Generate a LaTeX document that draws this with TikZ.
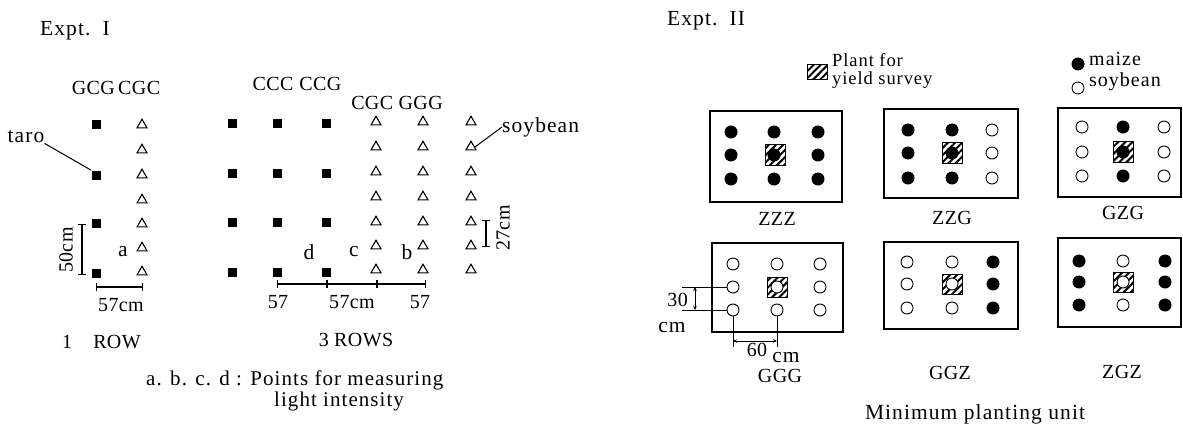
\documentclass[tikz,border=0pt]{standalone}
\usepackage{fontspec}
\setmainfont{Liberation Serif}[LetterSpace=5]
\newfontfamily\tightfont{Liberation Serif}[LetterSpace=2]
\usetikzlibrary{shapes.geometric,patterns.meta,arrows.meta}
\begin{document}
\begin{tikzpicture}[x=1pt,y=-1pt,
  every node/.style={inner sep=0pt, font=\fontsize{21.5}{23}\selectfont},
  lab/.style={font=\tightfont\fontsize{20}{22}\selectfont},
  sqr/.style={rectangle, fill=black, minimum size=9pt},
  tri/.style={regular polygon, regular polygon sides=3, draw, line width=1.1pt, minimum size=11.5pt},
  mz/.style={circle, fill=black, minimum size=13pt},
  sb/.style={circle, draw, fill=white, line width=0.9pt, minimum size=12pt},
  hatch/.style={rectangle, draw, line width=1pt, minimum size=20pt, pattern={Lines[angle=45,distance=5pt,line width=2pt]}},
  plotbox/.style={rectangle, draw, line width=1.4pt},
  dimline/.style={line width=1.2pt},
  barred/.style={dimline, {Bar[width=8pt]}-{Bar[width=8pt]}},
  dimarrow/.style={line width=0.9pt, {Stealth[length=4pt,width=3.5pt]}-{Stealth[length=4pt,width=3.5pt]}},
  lead/.style={line width=1pt},
]
\useasboundingbox (0,0) rectangle (1183,433);

% ---------------- Expt. I ----------------
\node[anchor=west] (t1) at (40,31) {Expt.\, I};
\node[lab] (g1) at (116,88) {GCG\,CGC};
\foreach \i/\y in {1/125,2/175,3/223,4/273} \node[sqr] (rs\i) at (96,\y) {};
\foreach \i/\y in {1/125,2/150,3/175,4/200,5/224,6/248,7/272} \node[tri] (rt\i) at (142,\y) {};
\node (taro) at (26,137) {taro};
\draw[lead] (taro.south east) -- (rs2.north west);
\coordinate (h50a) at (82,224);
\coordinate (h50b) at (82,275);
\draw[barred] (h50a) -- (h50b);
\node[lab, rotate=90] (l50) at (66,250) {50cm};
\node (la) at (123,252) {a};
\coordinate (w57a) at (96,287);
\coordinate (w57b) at (143,287);
\draw[barred] (w57a) -- (w57b);
\node[lab] (l57) at (121,305) {57cm};
\node[lab] (one) at (67,342) {1};
\node[lab] (row) at (117,342) {ROW};

% 3 rows
\node[lab] (g2) at (297,84) {CCC\hspace{6pt}CCG};
\node[lab] (g3) at (397,103) {CGC GGG};
\foreach \c/\x in {1/232,2/277,3/326}
  \foreach \r/\y in {1/124,2/173,3/222,4/272}
    \node[sqr] (s\c\r) at (\x,\y) {};
\foreach \c/\x in {1/376,2/423,3/471}
  \foreach \r/\y in {1/122,2/147,3/172,4/197,5/222,6/246,7/270}
    \node[tri] (t\c\r) at (\x,\y) {};
\node[anchor=west] (soy) at (502,127) {soybean};
\draw[lead] (soy.west) -- (t32.east);
\coordinate (h27a) at (486,220);
\coordinate (h27b) at (486,247);
\draw[barred] (h27a) -- (h27b);
\node[lab, rotate=90] (l27) at (503,228) {27cm};
\node (ld) at (309,252) {d};
\node (lc) at (354,252) {c};
\node (lb) at (407,252) {b};
\coordinate (m1) at (277,284);
\coordinate (m2) at (327,284);
\coordinate (m3) at (377,284);
\coordinate (m4) at (426,284);
\draw[barred] (m1) -- (m2);
\draw[barred] (m2) -- (m3);
\draw[barred] (m3) -- (m4);
\node[lab] (n1) at (278,302) {57};
\node[lab] (n2) at (352,302) {57cm};
\node[lab] (n3) at (420,302) {57};
\node[lab] (three) at (356,340) {3 ROWS};
\node[anchor=north west, align=left, font=\fontsize{21}{18}\selectfont] (cap) at (146,371)
  {a. b. c. d : Points for measuring\\\hspace{128pt}light intensity};

% ---------------- Expt. II ----------------
\node[anchor=west] (t2) at (667,21) {Expt.\, II};
\node[hatch, minimum width=20pt, minimum height=15pt] (lh) at (817,72) {};
\node[anchor=west, align=left, font=\fontsize{18.5}{17.5}\selectfont] (lp) at (832,71) {Plant for\\yield survey};
\node[mz] (lm) at (1078,64) {};
\node[sb] (ls) at (1078,88) {};
\node[anchor=west, align=left, font=\fontsize{20}{21}\selectfont] (lt) at (1089,72) {maize\\soybean};

% boxes
\node[plotbox, minimum width=132pt, minimum height=91pt] (B1) at (776,156.5) {};
\node[plotbox, minimum width=134pt, minimum height=89pt] (B2) at (951,153.5) {};
\node[plotbox, minimum width=123pt, minimum height=89pt] (B3) at (1119.5,152.5) {};
\node[plotbox, minimum width=131pt, minimum height=89pt] (B4) at (777.5,287.5) {};
\node[plotbox, minimum width=134pt, minimum height=87pt] (B5) at (951,285.5) {};
\node[plotbox, minimum width=123pt, minimum height=89pt] (B6) at (1119.5,282.5) {};

\node[hatch] (h1) at (775,155) {};
\node[hatch] (h2) at (952,153) {};
\node[hatch] (h3) at (1123,152) {};
\node[hatch] (h4) at (777,287) {};
\node[hatch] (h5) at (952,284) {};
\node[hatch] (h6) at (1123,282) {};

\foreach \c/\x/\st in {1/731/mz,2/774/mz,3/818/mz}
  \foreach \r/\y in {1/132,2/155,3/179}
    \node[\st] (a\c\r) at (\x,\y) {};
\foreach \c/\x/\st in {1/908/mz,2/952/mz,3/992/sb}
  \foreach \r/\y in {1/130,2/153,3/178}
    \node[\st] (b\c\r) at (\x,\y) {};
\foreach \c/\x/\st in {1/1082/sb,2/1123/mz,3/1164/sb}
  \foreach \r/\y in {1/127,2/152,3/176}
    \node[\st] (c\c\r) at (\x,\y) {};
\foreach \c/\x/\st in {1/733/sb,2/777/sb,3/820/sb}
  \foreach \r/\y in {1/264,2/287,3/310}
    \node[\st] (d\c\r) at (\x,\y) {};
\foreach \c/\x/\st in {1/907/sb,2/952/sb,3/993/mz}
  \foreach \r/\y in {1/262,2/284,3/308}
    \node[\st] (e\c\r) at (\x,\y) {};
\foreach \c/\x/\st in {1/1079/mz,2/1123/sb,3/1165/mz}
  \foreach \r/\y in {1/261,2/282,3/305}
    \node[\st] (f\c\r) at (\x,\y) {};

\node[lab] (L1) at (777,219) {ZZZ};
\node[lab] (L2) at (952,218) {ZZG};
\node[lab] (L3) at (1123,213) {GZG};
\node[lab] (L4) at (780,376) {GGG};
\node[lab] (L5) at (950,373) {GGZ};
\node[lab] (L6) at (1122,372) {ZGZ};

% 30 cm dimension
\coordinate (e30a) at (682,287);
\coordinate (e30b) at (682,310);
\draw[line width=0.9pt] (e30a) -- (d12.west);
\draw[line width=0.9pt] (e30b) -- (d13.west);
\coordinate (v30a) at (695,287);
\coordinate (v30b) at (695,310);
\draw[dimarrow] (v30a) -- (v30b);
\node[lab, anchor=east] (l30) at (688,300) {30};
\node (l30cm) at (672,328) {cm};
% 60 cm dimension
\coordinate (e60a) at (733,347);
\coordinate (e60b) at (777,347);
\draw[line width=0.9pt] (d13.south) -- (e60a);
\draw[line width=0.9pt] (d23.south) -- (e60b);
\coordinate (h60a) at (733,341);
\coordinate (h60b) at (777,341);
\draw[dimarrow] (h60a) -- (h60b);
\node[lab] (l60) at (757,350) {60};
\node (l60cm) at (786,358) {cm};

\node (min) at (975,414) {Minimum planting unit};
\end{tikzpicture}
\end{document}
